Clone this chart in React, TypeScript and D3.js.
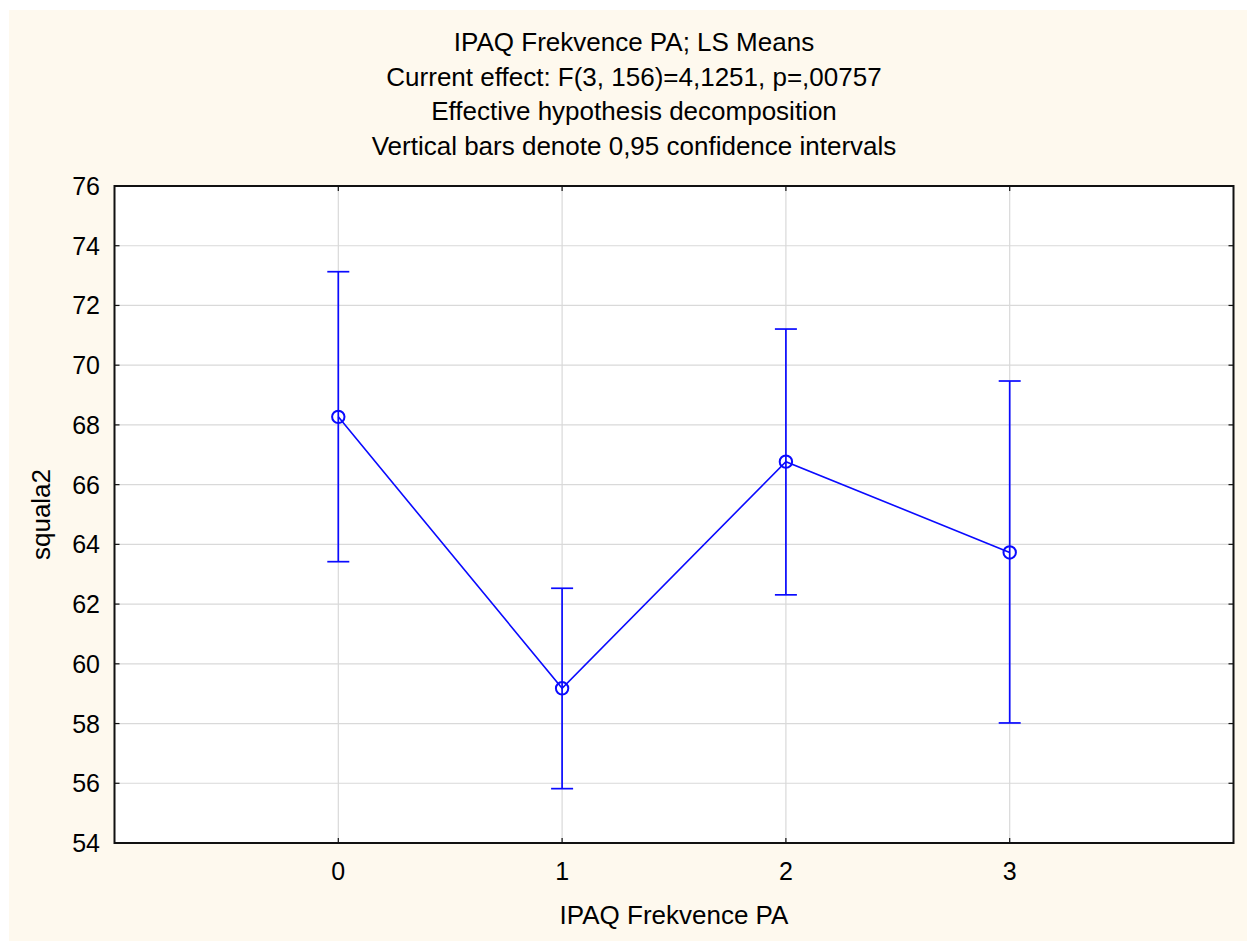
import React, { useEffect, useRef } from 'react';
import * as d3 from 'd3';

const titleLines = [
  'IPAQ Frekvence PA; LS Means',
  'Current effect: F(3, 156)=4,1251, p=,00757',
  'Effective hypothesis decomposition',
  'Vertical bars denote 0,95 confidence intervals',
];
const categories = [0, 1, 2, 3];
const means = [68.27, 59.18, 66.77, 63.73];
const upper = [73.13, 62.53, 71.21, 69.47];
const lower = [63.42, 55.82, 62.31, 58.02];
const yTicks = [54, 56, 58, 60, 62, 64, 66, 68, 70, 72, 74, 76];
const xLabel = 'IPAQ Frekvence PA';
const yLabel = 'squala2';

const App = () => {
  const ref = useRef<HTMLDivElement>(null);

  useEffect(() => {
    const width = 1247;
    const height = 941;
    const m = { left: 114.5, right: 1233.5, top: 186, bottom: 843 };
    const font = '"Liberation Sans", Arial, sans-serif';
    const blue = '#0a0aff';

    d3.select(ref.current).selectAll('*').remove();
    const svg = d3.select(ref.current)
      .append('svg')
      .attr('width', width)
      .attr('height', height)
      .style('display', 'block');

    // page background
    svg.append('rect').attr('x', 0).attr('y', 0).attr('width', width).attr('height', height).attr('fill', '#ffffff');
    svg.append('rect').attr('x', 9).attr('y', 10).attr('width', width - 9).attr('height', height - 10).attr('fill', '#fef9ee');

    const x = d3.scaleLinear().domain([-1, 4]).range([m.left, m.right]);
    const y = d3.scaleLinear().domain([54, 76]).range([m.bottom, m.top]);

    svg.append('rect')
      .attr('x', m.left).attr('y', m.top)
      .attr('width', m.right - m.left).attr('height', m.bottom - m.top)
      .attr('fill', '#ffffff');

    // grid
    svg.append('g').selectAll('line').data(yTicks.slice(1, -1)).enter().append('line')
      .attr('x1', m.left).attr('x2', m.right)
      .attr('y1', d => y(d)).attr('y2', d => y(d))
      .attr('stroke', '#d9d9d9').attr('stroke-width', 1.2);
    svg.append('g').selectAll('line').data(categories).enter().append('line')
      .attr('x1', d => x(d)).attr('x2', d => x(d))
      .attr('y1', m.top).attr('y2', m.bottom)
      .attr('stroke', '#d9d9d9').attr('stroke-width', 1.2);

    // inner ticks on all four sides
    const tk = svg.append('g').attr('stroke', '#111').attr('stroke-width', 1.2);
    yTicks.forEach(v => {
      tk.append('line').attr('x1', m.left).attr('x2', m.left + 5).attr('y1', y(v)).attr('y2', y(v));
      tk.append('line').attr('x1', m.right - 5).attr('x2', m.right).attr('y1', y(v)).attr('y2', y(v));
    });
    categories.forEach(c => {
      tk.append('line').attr('x1', x(c)).attr('x2', x(c)).attr('y1', m.bottom).attr('y2', m.bottom - 5);
      tk.append('line').attr('x1', x(c)).attr('x2', x(c)).attr('y1', m.top).attr('y2', m.top + 5);
    });

    // frame
    svg.append('rect')
      .attr('x', m.left).attr('y', m.top)
      .attr('width', m.right - m.left).attr('height', m.bottom - m.top)
      .attr('fill', 'none').attr('stroke', '#111').attr('stroke-width', 2);

    // tick labels
    svg.append('g').selectAll('text').data(yTicks).enter().append('text')
      .attr('x', 100).attr('y', d => y(d)).attr('dy', '0.36em')
      .attr('text-anchor', 'end')
      .attr('font-family', font).attr('font-size', 25).attr('fill', '#000')
      .text(d => d);
    svg.append('g').selectAll('text').data(categories).enter().append('text')
      .attr('x', d => x(d)).attr('y', 880)
      .attr('text-anchor', 'middle')
      .attr('font-family', font).attr('font-size', 25).attr('fill', '#000')
      .text(d => d);

    // axis titles
    svg.append('text')
      .attr('x', (m.left + m.right) / 2).attr('y', 924)
      .attr('text-anchor', 'middle')
      .attr('font-family', font).attr('font-size', 26).attr('fill', '#000')
      .text(xLabel);
    svg.append('text')
      .attr('transform', `translate(50, ${(m.top + m.bottom) / 2}) rotate(-90)`)
      .attr('text-anchor', 'middle')
      .attr('font-family', font).attr('font-size', 26).attr('fill', '#000')
      .text(yLabel);

    // title
    svg.append('g').selectAll('text').data(titleLines).enter().append('text')
      .attr('x', 634).attr('y', (d, i) => 51 + i * 34.7)
      .attr('text-anchor', 'middle')
      .attr('font-family', font).attr('font-size', 26).attr('fill', '#000')
      .text(d => d);

    // error bars
    const eb = svg.append('g').attr('stroke', blue).attr('stroke-width', 1.7).attr('fill', 'none');
    categories.forEach((c, i) => {
      eb.append('line').attr('x1', x(c)).attr('x2', x(c)).attr('y1', y(lower[i])).attr('y2', y(upper[i]));
      eb.append('line').attr('x1', x(c) - 11).attr('x2', x(c) + 11).attr('y1', y(upper[i])).attr('y2', y(upper[i]));
      eb.append('line').attr('x1', x(c) - 11).attr('x2', x(c) + 11).attr('y1', y(lower[i])).attr('y2', y(lower[i]));
    });

    // mean line
    const line = d3.line<number>().x((d, i) => x(categories[i])).y(d => y(d));
    svg.append('path')
      .attr('d', line(means))
      .attr('fill', 'none').attr('stroke', blue).attr('stroke-width', 1.6);

    svg.append('g').selectAll('circle').data(means).enter().append('circle')
      .attr('cx', (d, i) => x(categories[i])).attr('cy', d => y(d))
      .attr('r', 6.2)
      .attr('fill', 'none').attr('stroke', blue).attr('stroke-width', 2);
  }, []);

  return <div ref={ref} style={{ position: 'absolute', left: 0, top: 0 }}></div>;
};

export default App;
